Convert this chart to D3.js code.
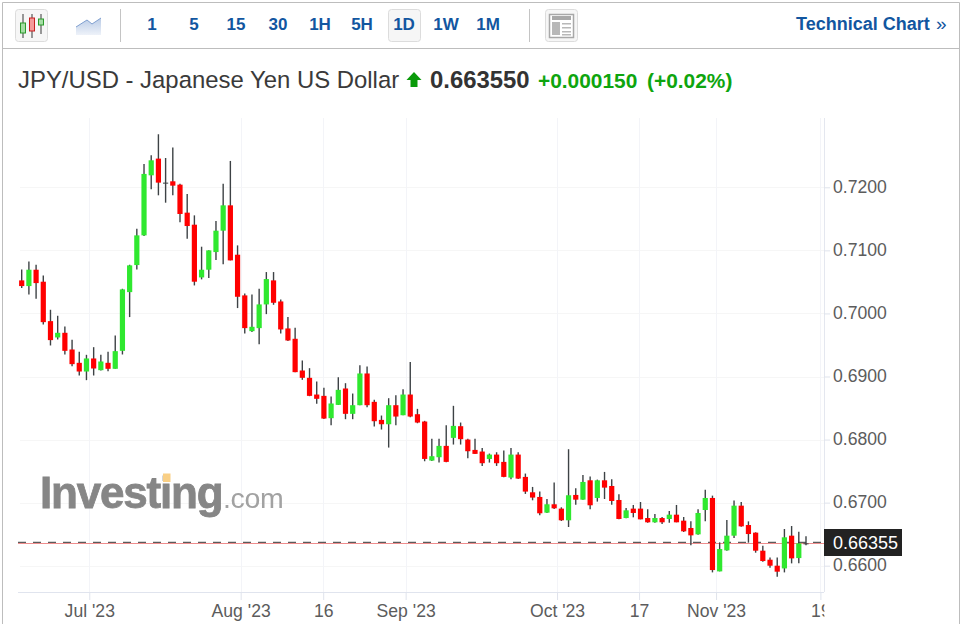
<!DOCTYPE html>
<html>
<head>
<meta charset="utf-8">
<script src="https://cdn.jsdelivr.net/npm/d3@7"></script>
<style>
  html, body { margin: 0; padding: 0; background: #fff; overflow: hidden; }
  svg { display: block; font-family: "Liberation Sans", Arial, sans-serif; }
</style>
</head>
<body>
<div id="chart"></div>
<script>
const opens = [
  .70524,.70434,.70693,.70503,.69878,.69619,.69693,.69428,.69217,.69079,
  .69286,.69100,.69217,.69122,.69407,.70338,.70767,.71238,.72190,.72455,
  .72074,.72095,.72042,.71598,.71407,.70571,.70693,.70973,.71312,.71714,
  .70931,.70286,.69719,.69767,.70143,.70524,.70190,.69762,.69598,.69095,
  .68979,.68714,.68693,.68339,.68550,.68810,.68408,.68545,.69048,.68598,
  .68312,.68243,.68545,.68386,.68714,.68402,.68286,.67667,.67720,.67900,
  .68027,.68212,.68000,.67836,.67810,.67693,.67762,.67646,.67397,.67762,
  .67408,.67164,.67090,.66841,.66974,.66905,.66720,.67122,.67047,.67354,
  .67074,.67354,.67264,.67042,.66756,.66905,.66905,.66756,.66688,.66756,
  .66741,.66809,.66714,.66598,.66497,.66883,.67074,.65910,.66243,.66476,
  .66952,.66645,.66524,.66238,.66095,.66000,.65957,.66476,.66121,.66340
];
const closes = [
  .70434,.70693,.70481,.69862,.69577,.69693,.69407,.69196,.69079,.69286,
  .69127,.69238,.69122,.69402,.70381,.70762,.71238,.72212,.72428,.72074,
  .72058,.72026,.71577,.71386,.70503,.70693,.71000,.71312,.71714,.70841,
  .70264,.69767,.69788,.70143,.70545,.70169,.69746,.69571,.69069,.68979,
  .68693,.68646,.68333,.68572,.68788,.68408,.68545,.69048,.68545,.68291,
  .68243,.68545,.68365,.68714,.68365,.68270,.67693,.67736,.67900,.67646,
  .68217,.68006,.67815,.67773,.67625,.67762,.67625,.67408,.67762,.67381,
  .67175,.67080,.66831,.66974,.66910,.66720,.67117,.67047,.67328,.66958,
  .67354,.67238,.67026,.66741,.66878,.66836,.66735,.66688,.66756,.66688,
  .66809,.66688,.66545,.66481,.66836,.67074,.65931,.66264,.66476,.66952,
  .66624,.66502,.66238,.66074,.66000,.65905,.66450,.66116,.66354,.66355
];
const highs = [
  .70698,.70825,.70772,.70603,.70058,.69963,.69794,.69582,.69391,.69344,
  .69465,.69344,.69391,.69651,.70391,.70772,.71344,.72370,.72508,.72841,
  .72465,.72630,.72058,.71894,.71555,.71058,.71000,.71465,.72058,.72418,
  .71079,.70317,.70301,.70391,.70656,.70656,.70222,.69942,.69773,.69254,
  .69132,.68921,.68820,.68683,.68990,.68894,.68730,.69180,.69159,.68630,
  .68381,.68656,.68704,.68799,.69228,.68487,.68297,.68011,.68011,.68228,
  .68535,.68270,.68011,.68011,.67868,.67778,.67799,.67826,.67868,.67799,
  .67461,.67249,.67175,.67058,.67318,.66926,.67847,.67227,.67439,.67413,
  .67365,.67487,.67370,.67132,.66915,.66963,.67010,.66894,.66820,.66772,
  .66868,.66963,.66772,.66703,.66894,.67206,.67111,.66370,.66725,.67032,
  .67010,.66703,.66529,.66317,.66132,.66132,.66582,.66629,.66539,.66465
];
const lows = [
  .70402,.70301,.70233,.69825,.69492,.69587,.69349,.69164,.69016,.68942,
  .69016,.69095,.69085,.69122,.69349,.69942,.70698,.71227,.71968,.71873,
  .71756,.71873,.71444,.71185,.70444,.70540,.70561,.70846,.70778,.70841,
  .70085,.69682,.69704,.69513,.69989,.70137,.69682,.69561,.69069,.68947,
  .68688,.68566,.68328,.68228,.68550,.68323,.68323,.68545,.68513,.68206,
  .68159,.67873,.68228,.68386,.68355,.68259,.67656,.67662,.67635,.67640,
  .67921,.67921,.67704,.67773,.67582,.67635,.67582,.67402,.67371,.67376,
  .67138,.67037,.66799,.66836,.66900,.66709,.66614,.66968,.67047,.66894,
  .67016,.67058,.66968,.66735,.66751,.66767,.66735,.66682,.66682,.66661,
  .66682,.66688,.66534,.66323,.66492,.66703,.65894,.65910,.66238,.66439,
  .66619,.66365,.66206,.66063,.65968,.65825,.65894,.66037,.66037,.66323
];
const yTicks = [0.72, 0.71, 0.70, 0.69, 0.68, 0.67, 0.66];
// tick positions counted in candles, dates fall between trading days
const xTickPos = [9.39, 30.43, 41.9, 53.36, 74.4, 85.8, 96.5, 111];
const xTickLabels = ["Jul '23", "Aug '23", "16", "Sep '23", "Oct '23", "17", "Nov '23", "19"];
const lastPrice = 0.66355;
const intervals = ["1", "5", "15", "30", "1H", "5H", "1D", "1W", "1M"];

const svg = d3.select("#chart").append("svg")
  .attr("width", 964)
  .attr("height", 624);

const plot = { left: 18, right: 824, top: 118, bottom: 592 };

const x = d3.scaleLinear().domain([0, 109]).range([21.7, 806]);
const y = d3.scaleLinear().domain([0.72, 0.66]).range([187.3, 565.7]);

const defs = svg.append("defs");
defs.append("filter").attr("id", "soft").append("feGaussianBlur").attr("stdDeviation", 0.7);
defs.append("clipPath").attr("id", "lastClip").append("rect")
  .attr("x", -20).attr("y", 0).attr("width", 23.5).attr("height", 40);
const areaGrad = defs.append("linearGradient").attr("id", "areaGrad")
  .attr("x1", 0).attr("y1", 0).attr("x2", 0).attr("y2", 1);
areaGrad.append("stop").attr("offset", 0).attr("stop-color", "#b9cbe6");
areaGrad.append("stop").attr("offset", 1).attr("stop-color", "#eef2f9");

// frame
svg.append("path")
  .attr("d", "M2.5,624V2.5H959.5V624")
  .attr("fill", "none").attr("stroke", "#bdbdbd");
svg.append("line")
  .attr("x1", 2).attr("x2", 960).attr("y1", 48.5).attr("y2", 48.5)
  .attr("stroke", "#bdbdbd");

// toolbar
const toolbar = svg.append("g");
function button(bx) {
  toolbar.append("rect")
    .attr("x", bx + 0.5).attr("y", 9.5).attr("width", 32).attr("height", 32).attr("rx", 3)
    .attr("fill", "#f6f6f6").attr("stroke", "#dcdcdc");
}
button(15);
button(388);
button(545);
[[23, 14, 38, 23, 33, "#2b9a2b", "#a5dda5"],
 [32, 14, 38, 18, 31, "#c82020", "#f49a9a"],
 [41, 14, 34, 19, 25, "#2b9a2b", "#a5dda5"]].forEach(c => {
  toolbar.append("line").attr("x1", c[0]).attr("x2", c[0]).attr("y1", c[1]).attr("y2", c[2])
    .attr("stroke", "#777").attr("stroke-width", 1.5);
  toolbar.append("rect").attr("x", c[0] - 2.5).attr("y", c[3]).attr("width", 5).attr("height", c[4] - c[3])
    .attr("fill", c[6]).attr("stroke", c[5]);
});
toolbar.append("path")
  .attr("d", "M76,27L87,20L92,24L101,18V35H76Z")
  .attr("fill", "url(#areaGrad)");
toolbar.append("path")
  .attr("d", "M76,27L87,20L92,24L101,18")
  .attr("fill", "none").attr("stroke", "#7f9fd0");
[120.5, 529.5].forEach(d => {
  toolbar.append("line").attr("x1", d).attr("x2", d).attr("y1", 9).attr("y2", 42).attr("stroke", "#c4c4c4");
});
toolbar.selectAll("text.interval")
  .data(intervals)
  .enter().append("text")
  .attr("class", "interval")
  .attr("x", (d, i) => 152 + i * 42)
  .attr("y", 30)
  .attr("text-anchor", "middle")
  .attr("font-size", 17)
  .attr("font-weight", "bold")
  .attr("fill", "#1256a0")
  .text(d => d);
// news icon
toolbar.append("rect").attr("x", 549.5).attr("y", 14.5).attr("width", 24).attr("height", 23)
  .attr("fill", "#fff").attr("stroke", "#a8a8a8").attr("stroke-width", 1.5);
toolbar.append("rect").attr("x", 552).attr("y", 16).attr("width", 19).attr("height", 4).attr("fill", "#a8a8a8");
toolbar.append("rect").attr("x", 552).attr("y", 22).attr("width", 8).attr("height", 13).attr("fill", "#b8b8b8");
[23, 27, 31, 34].forEach(ly => {
  toolbar.append("rect").attr("x", 562).attr("y", ly).attr("width", 9).attr("height", 1.5).attr("fill", "#b8b8b8");
});
toolbar.append("text")
  .attr("x", 796).attr("y", 30)
  .attr("font-size", 18).attr("font-weight", "bold").attr("fill", "#1256a0")
  .text("Technical Chart");
toolbar.append("text")
  .attr("x", 936).attr("y", 30)
  .attr("font-size", 19).attr("fill", "#1256a0")
  .text("»");

// title row
const titleRow = svg.append("g").attr("font-size", 23.9);
titleRow.append("text").attr("x", 18).attr("y", 88).attr("fill", "#3a3a3a")
  .text("JPY/USD - Japanese Yen US Dollar");
titleRow.append("path")
  .attr("d", "M414,72L421.5,80H417.5V87H410.5V80H406.5Z")
  .attr("fill", "#0a9a0a");
titleRow.append("text").attr("x", 430).attr("y", 88).attr("fill", "#333").attr("font-weight", "bold")
  .text("0.663550");
titleRow.append("text").attr("x", 538).attr("y", 87.5).attr("fill", "#0ea50e").attr("font-weight", "bold")
  .attr("font-size", 20.9)
  .text("+0.000150");
titleRow.append("text").attr("x", 647).attr("y", 87.5).attr("fill", "#0ea50e").attr("font-weight", "bold")
  .attr("font-size", 20.9)
  .text("(+0.02%)");

// grid
svg.append("g").selectAll("line")
  .data(yTicks)
  .enter().append("line")
  .attr("x1", 20).attr("x2", plot.right)
  .attr("y1", d => Math.round(y(d)) + 0.5).attr("y2", d => Math.round(y(d)) + 0.5)
  .attr("stroke", "#f6f6f6");
svg.append("g").selectAll("line")
  .data(xTickPos)
  .enter().append("line")
  .attr("x1", d => Math.round(x(d)) + 0.5).attr("x2", d => Math.round(x(d)) + 0.5)
  .attr("y1", plot.top).attr("y2", plot.bottom)
  .attr("stroke", "#f3f4f8");

// watermark
const mark = svg.append("g").attr("filter", "url(#soft)");
mark.append("text").attr("x", 40).attr("y", 507.5)
  .attr("font-size", 44).attr("font-weight", "bold").attr("letter-spacing", -1.2)
  .attr("fill", "#868686").attr("stroke", "#868686").attr("stroke-width", 0.8)
  .text("Investing");
mark.append("text").attr("x", 223).attr("y", 507.5)
  .attr("font-size", 28.5).attr("letter-spacing", -0.3).attr("fill", "#a2a2a2")
  .text(".com");
mark.append("rect").attr("x", 163).attr("y", 473.5).attr("width", 7.5).attr("height", 8.5)
  .attr("fill", "#f9cf85");

// price line
svg.append("line")
  .attr("x1", plot.left).attr("x2", plot.right)
  .attr("y1", y(lastPrice) + 0.2).attr("y2", y(lastPrice) + 0.2)
  .attr("stroke", "#ee8d8d").attr("stroke-width", 1);
svg.append("line")
  .attr("x1", plot.left).attr("x2", plot.right)
  .attr("y1", y(lastPrice) - 1).attr("y2", y(lastPrice) - 1)
  .attr("stroke", "#333").attr("stroke-width", 1)
  .attr("stroke-dasharray", "8,7");

// candles
const candles = opens.map((o, i) => ({ i, o, c: closes[i], h: highs[i], l: lows[i] }));

svg.append("g").selectAll("line")
  .data(candles)
  .enter().append("line")
  .attr("x1", d => x(d.i)).attr("x2", d => x(d.i))
  .attr("y1", d => y(d.h)).attr("y2", d => y(d.l))
  .attr("stroke", "#3d4245").attr("stroke-width", 1.4);

svg.append("g").selectAll("rect")
  .data(candles)
  .enter().append("rect")
  .attr("x", d => x(d.i) - 2.6)
  .attr("y", d => y(Math.max(d.o, d.c)))
  .attr("width", 5.2)
  .attr("height", d => Math.max(1, Math.abs(y(d.o) - y(d.c))))
  .attr("fill", d => Math.abs(y(d.o) - y(d.c)) < 1.5 ? "#3d4245" : d.c > d.o ? "#2fe82f" : "#ff0000");

// axes
const yAxis = svg.append("g")
  .attr("transform", `translate(${plot.right},0)`)
  .call(d3.axisRight(y).tickValues(yTicks).tickSize(6).tickPadding(3).tickFormat(d3.format(".4f")));
yAxis.select(".domain").attr("d", `M0.5,${plot.top}V${plot.bottom}`).attr("stroke", "#e4e7ef");
yAxis.selectAll(".tick line").attr("stroke", "#dfe3ec");
yAxis.selectAll("text")
  .attr("font-family", "Liberation Sans, Arial, sans-serif")
  .attr("font-size", 17.6).attr("fill", "#5c5c5c")
  .attr("dy", "0.28em");

const xAxis = svg.append("g")
  .attr("transform", `translate(0,${plot.bottom})`);
xAxis.call(d3.axisBottom(x)
  .tickValues(xTickPos)
  .tickSize(8)
  .tickPadding(5)
  .tickFormat((d, i) => xTickLabels[i]));
xAxis.select(".domain").attr("d", `M${plot.left},0.5H${plot.right}`).attr("stroke", "#e0e4ee");
xAxis.selectAll(".tick line").attr("stroke", "#dfe3ec");
xAxis.selectAll("text")
  .attr("font-family", "Liberation Sans, Arial, sans-serif")
  .attr("font-size", 17.6).attr("fill", "#5c5c5c");
// last label is cut off by the edge of the plot
xAxis.selectAll(".tick").filter(d => d === 111).select("text")
  .attr("clip-path", "url(#lastClip)");

// last price label
svg.append("rect")
  .attr("x", 824).attr("y", 529).attr("width", 78).attr("height", 27)
  .attr("fill", "#222");
svg.append("text")
  .attr("x", 833).attr("y", y(lastPrice) + 6)
  .attr("font-size", 18).attr("fill", "#fff")
  .text(d3.format(".5f")(lastPrice));
</script>
</body>
</html>
